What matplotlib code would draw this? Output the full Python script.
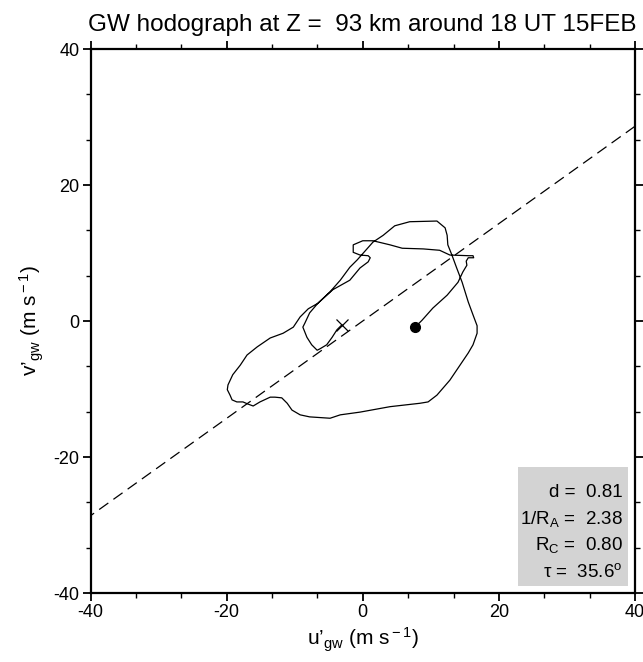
import numpy as np
import matplotlib
matplotlib.use("Agg")
import matplotlib.pyplot as plt
from matplotlib.ticker import MultipleLocator

plt.rcParams['font.family'] = ['Liberation Sans', 'DejaVu Sans']
plt.rcParams['mathtext.fontset'] = 'custom'
plt.rcParams['mathtext.rm'] = 'Liberation Sans'
plt.rcParams['mathtext.it'] = 'Liberation Sans'
plt.rcParams['axes.unicode_minus'] = False

# hodograph (m/s), starting at the dot and ending at the cross
u_gw = [7.7, 8.7, 10.3, 12.4, 14.0, 14.7, 15.3, 15.2, 15.5, 16.3, 16.2, 15.6,
        12.8, 11.3, 8.9, 5.8, 4.0, 1.5, 0.0, -1.4, -1.4, -0.4, 0.8, 1.1, 0.8,
        -0.4, -1.9, -4.4, -6.6, -8.0, -9.2, -10.2, -11.7, -13.6, -15.5, -17.0,
        -18.0, -19.1, -19.8, -19.9, -19.5, -19.2, -18.5, -17.6, -16.9, -16.1,
        -15.1, -13.6, -12.9, -11.9, -11.1, -10.4, -9.2, -7.8, -4.8, -3.3, -0.4,
        4.0, 8.4, 9.6, 10.9, 12.8, 15.5, 16.2, 16.8, 16.8, 16.2, 15.5, 14.6,
        13.8, 13.1, 12.5, 12.4, 12.1, 10.9, 6.9, 4.7, 3.0, 1.5, -0.8, -1.9,
        -3.3, -4.8, -6.6, -7.8, -8.5, -8.8, -8.2, -7.5, -6.7, -6.3, -5.3, -4.5,
        -3.8, -3.1]
v_gw = [-0.9, 0.1, 1.9, 3.8, 5.7, 7.2, 8.2, 8.8, 9.3, 9.3, 9.6, 9.6,
        9.7, 10.4, 10.6, 10.7, 11.2, 11.8, 11.8, 11.2, 10.1, 9.7, 9.6, 9.3, 8.7,
        7.8, 6.0, 4.6, 2.6, 1.8, 0.6, -0.9, -1.8, -2.5, -3.8, -5.0,
        -6.5, -7.9, -9.4, -10.1, -10.9, -11.6, -11.9, -11.9, -12.2, -12.5,
        -11.9, -11.2, -11.2, -11.3, -12.1, -13.1, -13.8, -14.1, -14.3, -13.8, -13.4,
        -12.6, -12.1, -11.9, -10.9, -8.7, -4.7, -3.5, -1.8, -0.7, 0.9, 2.8, 5.7,
        7.8, 9.7, 11.2, 12.6, 13.7, 14.7, 14.6, 14.0, 12.6, 11.6, 9.0, 7.9,
        6.0, 4.3, 2.6, 1.2, -0.3, -0.9, -2.4, -3.5, -4.3, -4.1, -3.5, -2.4,
        -1.3, -0.6]

tau_deg = 35.6
stat_labels = [r"d =  0.81", r"1/R$_{\rm A}$ =  2.38", r"R$_{\rm C}$ =  0.80",
               r"$\tau$ =  35.6$^{\rm o}$"]
major_ticks = [-40, -20, 0, 20, 40]
title = "GW hodograph at Z =  93 km around 18 UT 15FEB"

fig = plt.figure(figsize=(6.43, 6.62), dpi=100)
ax = fig.add_axes([90.5/643, 1-593/662, (635-90.5)/643, (593-49)/662])

ax.plot(u_gw, v_gw, color='black', lw=0.9, zorder=3)
ax.plot(u_gw[0], v_gw[0], 'o', color='black', ms=7, zorder=4)
ax.plot(u_gw[-1], v_gw[-1], 'x', color='black', ms=8, mew=0.9, zorder=4)

lx = np.array([-45, 45])
ax.plot(lx, lx*np.tan(np.radians(tau_deg)), color='black', lw=0.9,
        dashes=(9, 5), zorder=2)

ax.set_xlim(-40, 40)
ax.set_ylim(-40, 40)
ax.set_xticks(major_ticks)
ax.set_yticks(major_ticks)
ax.xaxis.set_minor_locator(MultipleLocator(20/3))
ax.yaxis.set_minor_locator(MultipleLocator(20/3))
ax.tick_params(which='both', direction='out', top=True, right=True,
               labelsize=13, width=1.3, color='black')
ax.tick_params(which='major', length=6, pad=2)
ax.tick_params(which='minor', length=3.5, width=1)
for s in ax.spines.values():
    s.set_linewidth(1.6)

ax.set_xlabel(r"u’$_{\rm gw}$ (m s$^{\rm -1}$)", fontsize=15, labelpad=3)
ax.set_ylabel(r"v’$_{\rm gw}$ (m s$^{\rm -1}$)", fontsize=15, labelpad=5)
fig.text(362.75/643, (662-31)/662, title, fontsize=17.5, ha='center',
         va='baseline')

# statistics box
ax.add_patch(plt.Rectangle((22.8, -38.9), 16.1, 17.4, facecolor='#d3d3d3',
                           edgecolor='none', zorder=1))
ys = [-25.2, -29.1, -33.0, -36.9]
for s, y in zip(stat_labels, ys):
    ax.text(38.2, y, s, ha='right', va='center', fontsize=13.5, zorder=5)

fig.savefig("out.png", dpi=100)
